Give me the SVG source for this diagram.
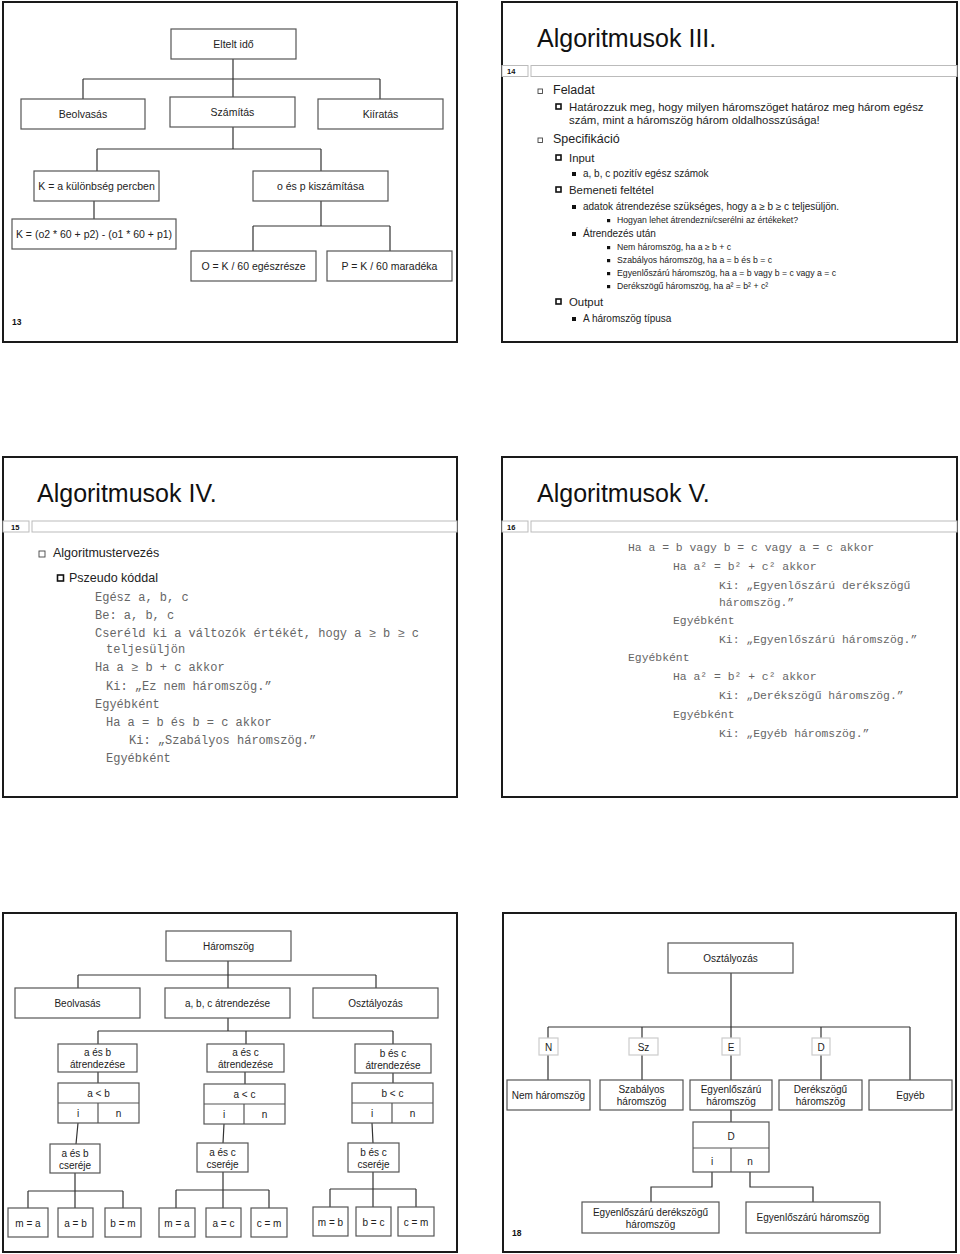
<svg xmlns="http://www.w3.org/2000/svg" width="960" height="1254" viewBox="0 0 960 1254">
<style>
.panel{fill:#fff;stroke:#1a1a1a;stroke-width:2}
.hdr{fill:#fff;stroke:#bbb;stroke-width:1}
.num{font-family:"Liberation Sans",Arial,sans-serif;font-weight:bold;fill:#111}
.title{font-family:"Liberation Sans",Arial,sans-serif;font-size:25px;fill:#111}
.box{fill:#fff;stroke:#555;stroke-width:1.2}
.lbl{fill:#fff;stroke:#ccc;stroke-width:1.2}
.t{font-family:"Liberation Sans",Arial,sans-serif;font-size:10.5px;fill:#222;text-anchor:middle}
.t2{font-family:"Liberation Sans",Arial,sans-serif;font-size:10px;fill:#222;text-anchor:middle}
.con path{fill:none;stroke:#333;stroke-width:1.2}
.b1{fill:#fff;stroke:#444;stroke-width:0.9}
.b2{fill:#fff;stroke:#111;stroke-width:1.6}
.bf{fill:#111}
.s1{font-family:"Liberation Sans",Arial,sans-serif;font-size:12.5px;fill:#222}
.s2{font-family:"Liberation Sans",Arial,sans-serif;font-size:11.4px;fill:#222}
.s3{font-family:"Liberation Sans",Arial,sans-serif;font-size:10px;fill:#222}
.s4{font-family:"Liberation Sans",Arial,sans-serif;font-size:8.7px;fill:#222}
.code{font-family:"Liberation Mono","Courier New",monospace;font-size:12px;fill:#666}
.code2{font-family:"Liberation Mono","Courier New",monospace;font-size:11.4px;fill:#666}
</style>

<!-- Panel 13 -->
<g id="slide13">
<rect class="panel" x="3" y="2" width="454" height="340"/>
<text class="num" x="12" y="325" font-size="8.5">13</text>
<g class="con" id="conn13">
<path d="M233,59V79M83,79H380M83,79V99M233,79V97M380,79V99"/>
<path d="M233,127V149M97,149H321M97,149V171M321,149V171"/>
<path d="M94,201V219"/>
<path d="M321,201V226M253,226H390M253,226V251M390,226V251"/>
</g>
<g id="n13_eltelt"><rect class="box" x="171" y="29" width="125" height="30"/><text class="t" x="233.5" y="48">Eltelt idő</text></g>
<g id="n13_beolvasas"><rect class="box" x="21" y="99" width="124" height="30"/><text class="t" x="83" y="118">Beolvasás</text></g>
<g id="n13_szamitas"><rect class="box" x="170" y="97" width="125" height="30"/><text class="t" x="232.5" y="116">Számítás</text></g>
<g id="n13_kiiratas"><rect class="box" x="318" y="99" width="125" height="30"/><text class="t" x="380.5" y="118">Kiíratás</text></g>
<g id="n13_kulonbseg"><rect class="box" x="34" y="171" width="125" height="30"/><text class="t" x="96.5" y="190">K = a különbség percben</text></g>
<g id="n13_oesp"><rect class="box" x="253" y="171" width="135" height="30"/><text class="t" x="320.5" y="190">o és p kiszámítása</text></g>
<g id="n13_kformula"><rect class="box" x="12" y="219" width="164" height="30"/><text class="t" x="94" y="238">K = (o2 * 60 + p2) - (o1 * 60 + p1)</text></g>
<g id="n13_O"><rect class="box" x="191" y="251" width="125" height="30"/><text class="t" x="253.5" y="270">O = K / 60 egészrésze</text></g>
<g id="n13_P"><rect class="box" x="327" y="251" width="125" height="30"/><text class="t" x="389.5" y="270">P = K / 60 maradéka</text></g>
</g>

<!-- Panel 14 -->
<g id="slide14">
<rect class="panel" x="502" y="2" width="455" height="340"/>
<text class="title" x="537" y="47">Algoritmusok III.</text>
<rect class="hdr" x="502" y="65.5" width="26" height="11"/>
<rect class="hdr" x="531" y="65.5" width="426" height="11"/>
<text class="num" x="507" y="74" font-size="7.5">14</text>
<rect class="b1" x="538" y="89" width="4.5" height="4.5"/>
<text class="s1" x="553" y="94">Feladat</text>
<rect class="b2" x="556" y="104" width="5" height="5"/>
<text class="s2" x="569" y="111">Határozzuk meg, hogy milyen háromszöget határoz meg három egész</text>
<text class="s2" x="569" y="124">szám, mint a háromszög három oldalhosszúsága!</text>
<rect class="b1" x="538" y="138" width="4.5" height="4.5"/>
<text class="s1" x="553" y="143">Specifikáció</text>
<rect class="b2" x="556" y="155" width="5" height="5"/>
<text class="s2" x="569" y="162">Input</text>
<rect class="bf" x="572" y="172" width="4" height="4"/>
<text class="s3" x="583" y="177">a, b, c pozitív egész számok</text>
<rect class="b2" x="556" y="187" width="5" height="5"/>
<text class="s2" x="569" y="194">Bemeneti feltétel</text>
<rect class="bf" x="572" y="205" width="4" height="4"/>
<text class="s3" x="583" y="210">adatok átrendezése szükséges, hogy a ≥ b ≥ c teljesüljön.</text>
<rect class="bf" x="607" y="219" width="3.2" height="3.2"/>
<text class="s4" x="617" y="223">Hogyan lehet átrendezni/cserélni az értékeket?</text>
<rect class="bf" x="572" y="232" width="4" height="4"/>
<text class="s3" x="583" y="237">Átrendezés után</text>
<rect class="bf" x="607" y="246" width="3.2" height="3.2"/>
<text class="s4" x="617" y="250">Nem háromszög, ha a ≥ b + c</text>
<rect class="bf" x="607" y="259" width="3.2" height="3.2"/>
<text class="s4" x="617" y="263">Szabályos háromszög, ha a = b és b = c</text>
<rect class="bf" x="607" y="272" width="3.2" height="3.2"/>
<text class="s4" x="617" y="276">Egyenlőszárú háromszög, ha a = b vagy b = c vagy a = c</text>
<rect class="bf" x="607" y="285" width="3.2" height="3.2"/>
<text class="s4" x="617" y="289">Derékszögű háromszög, ha a² = b² + c²</text>
<rect class="b2" x="556" y="299" width="5" height="5"/>
<text class="s2" x="569" y="306">Output</text>
<rect class="bf" x="572" y="317" width="4" height="4"/>
<text class="s3" x="583" y="322">A háromszög típusa</text>
</g>

<!-- Panel 15 -->
<g id="slide15">
<rect class="panel" x="3" y="457" width="454" height="340"/>
<text class="title" x="37" y="502">Algoritmusok IV.</text>
<rect class="hdr" x="3" y="521" width="26" height="11"/>
<rect class="hdr" x="32" y="521" width="425" height="11"/>
<text class="num" x="11" y="529.5" font-size="7.5">15</text>
<rect class="b1" x="39" y="551" width="6" height="6"/>
<text class="s1" x="53" y="557" font-size="17.5px">Algoritmustervezés</text>
<rect class="b2" x="57.5" y="575" width="6" height="6"/>
<text class="s1" x="69" y="582" font-size="15px">Pszeudo kóddal</text>
<text class="code" x="95" y="601">Egész a, b, c</text>
<text class="code" x="95" y="619">Be: a, b, c</text>
<text class="code" x="95" y="637">Cseréld ki a változók értékét, hogy a ≥ b ≥ c</text>
<text class="code" x="106" y="653">teljesüljön</text>
<text class="code" x="95" y="671">Ha a ≥ b + c akkor</text>
<text class="code" x="106" y="690">Ki: „Ez nem háromszög.”</text>
<text class="code" x="95" y="708">Egyébként</text>
<text class="code" x="106" y="726">Ha a = b és b = c akkor</text>
<text class="code" x="129" y="744">Ki: „Szabályos háromszög.”</text>
<text class="code" x="106" y="762">Egyébként</text>
</g>

<!-- Panel 16 -->
<g id="slide16">
<rect class="panel" x="502" y="457" width="455" height="340"/>
<text class="title" x="537" y="502">Algoritmusok V.</text>
<rect class="hdr" x="502" y="521" width="26" height="11"/>
<rect class="hdr" x="531" y="521" width="426" height="11"/>
<text class="num" x="507" y="529.5" font-size="7.5">16</text>
<text class="code2" x="628" y="551">Ha a = b vagy b = c vagy a = c akkor</text>
<text class="code2" x="673" y="570">Ha a² = b² + c² akkor</text>
<text class="code2" x="719" y="589">Ki: „Egyenlőszárú derékszögű</text>
<text class="code2" x="719" y="606">háromszög.”</text>
<text class="code2" x="673" y="624">Egyébként</text>
<text class="code2" x="719" y="643">Ki: „Egyenlőszárú háromszög.”</text>
<text class="code2" x="628" y="661">Egyébként</text>
<text class="code2" x="673" y="680">Ha a² = b² + c² akkor</text>
<text class="code2" x="719" y="699">Ki: „Derékszögű háromszög.”</text>
<text class="code2" x="673" y="718">Egyébként</text>
<text class="code2" x="719" y="737">Ki: „Egyéb háromszög.”</text>
</g>

<!-- Panel 17 -->
<g id="slide17">
<rect class="panel" x="3" y="913" width="454" height="339"/>
<g class="con" id="conn17">
<path d="M228,961V975M78,975H376M78,975V988M228,975V988M376,975V988"/>
<path d="M228,1018V1031M98,1031H393M98,1031V1044M246,1031V1044M393,1031V1044"/>
<path d="M98,1072V1083M245,1072V1084M393,1073V1083"/>
<path d="M78,1123L76,1144M224,1124L223,1143M372,1123L373,1143"/>
<path d="M75,1173V1191M28,1191H123M28,1191V1208M75,1191V1208M123,1191V1208"/>
<path d="M223,1172V1190M176,1190H269M176,1190V1208M223,1190V1208M269,1190V1208"/>
<path d="M373,1172V1189M330,1189H416M330,1189V1207M373,1189V1207M416,1189V1207"/>
</g>
<g id="n17_haromszog"><rect class="box" x="166" y="931" width="125" height="30"/><text class="t2" x="228.5" y="950">Háromszög</text></g>
<g id="n17_beolvasas"><rect class="box" x="15" y="988" width="125" height="30"/><text class="t2" x="77.5" y="1007">Beolvasás</text></g>
<g id="n17_atrendezes"><rect class="box" x="165" y="988" width="125" height="30"/><text class="t2" x="227.5" y="1007">a, b, c átrendezése</text></g>
<g id="n17_osztalyozas"><rect class="box" x="313" y="988" width="125" height="30"/><text class="t2" x="375.5" y="1007">Osztályozás</text></g>
<g id="n17_ab"><rect class="box" x="58" y="1044" width="79" height="28"/><text class="t2" x="97.5" y="1056">a és b</text><text class="t2" x="97.5" y="1068">átrendezése</text></g>
<g id="n17_ac"><rect class="box" x="207" y="1044" width="77" height="28"/><text class="t2" x="245.5" y="1056">a és c</text><text class="t2" x="245.5" y="1068">átrendezése</text></g>
<g id="n17_bc"><rect class="box" x="355" y="1044" width="76" height="29"/><text class="t2" x="393" y="1057">b és c</text><text class="t2" x="393" y="1069">átrendezése</text></g>
<g id="n17_dab"><rect class="box" x="58" y="1083" width="81" height="40"/><path d="M58,1103H139M98,1103V1123" fill="none" stroke="#555" stroke-width="1.2"/><text class="t2" x="98.5" y="1097">a &lt; b</text><text class="t2" x="78" y="1117">i</text><text class="t2" x="118.5" y="1117">n</text></g>
<g id="n17_dac"><rect class="box" x="204" y="1084" width="81" height="40"/><path d="M204,1104H285M244,1104V1124" fill="none" stroke="#555" stroke-width="1.2"/><text class="t2" x="244.5" y="1098">a &lt; c</text><text class="t2" x="224" y="1118">i</text><text class="t2" x="264.5" y="1118">n</text></g>
<g id="n17_dbc"><rect class="box" x="352" y="1083" width="81" height="40"/><path d="M352,1103H433M392,1103V1123" fill="none" stroke="#555" stroke-width="1.2"/><text class="t2" x="392.5" y="1097">b &lt; c</text><text class="t2" x="372" y="1117">i</text><text class="t2" x="412.5" y="1117">n</text></g>
<g id="n17_cab"><rect class="box" x="50" y="1144" width="50" height="29"/><text class="t2" x="75" y="1157">a és b</text><text class="t2" x="75" y="1169">cseréje</text></g>
<g id="n17_cac"><rect class="box" x="197" y="1143" width="51" height="29"/><text class="t2" x="222.5" y="1156">a és c</text><text class="t2" x="222.5" y="1168">cseréje</text></g>
<g id="n17_cbc"><rect class="box" x="348" y="1143" width="51" height="29"/><text class="t2" x="373.5" y="1156">b és c</text><text class="t2" x="373.5" y="1168">cseréje</text></g>
<g id="n17_l1"><rect class="box" x="8" y="1208" width="40" height="29"/><text class="t2" x="28" y="1226.5">m = a</text></g>
<g id="n17_l2"><rect class="box" x="58" y="1208" width="35" height="29"/><text class="t2" x="75.5" y="1226.5">a = b</text></g>
<g id="n17_l3"><rect class="box" x="105" y="1208" width="36" height="29"/><text class="t2" x="123" y="1226.5">b = m</text></g>
<g id="n17_l4"><rect class="box" x="159" y="1208" width="36" height="29"/><text class="t2" x="177" y="1226.5">m = a</text></g>
<g id="n17_l5"><rect class="box" x="206" y="1208" width="35" height="29"/><text class="t2" x="223.5" y="1226.5">a = c</text></g>
<g id="n17_l6"><rect class="box" x="251" y="1208" width="36" height="29"/><text class="t2" x="269" y="1226.5">c = m</text></g>
<g id="n17_l7"><rect class="box" x="313" y="1207" width="35" height="29"/><text class="t2" x="330.5" y="1225.5">m = b</text></g>
<g id="n17_l8"><rect class="box" x="356" y="1207" width="35" height="29"/><text class="t2" x="373.5" y="1225.5">b = c</text></g>
<g id="n17_l9"><rect class="box" x="398" y="1207" width="36" height="29"/><text class="t2" x="416" y="1225.5">c = m</text></g>
</g>

<!-- Panel 18 -->
<g id="slide18">
<rect class="panel" x="503" y="913" width="453" height="339"/>
<text class="num" x="512" y="1236" font-size="8.5">18</text>
<g class="con" id="conn18">
<path d="M731,973V1027M548,1027H910M548,1027V1038M642,1027V1038M731,1027V1038M821,1027V1038M910,1027V1080"/>
<path d="M548,1055V1080M642,1055V1080M731,1055V1080M821,1055V1080"/>
<path d="M731,1110V1122"/>
<path d="M712,1172V1187H651V1202M750,1172V1187H813V1202"/>
</g>
<g id="n18_osztalyozas"><rect class="box" x="668" y="943" width="125" height="30"/><text class="t2" x="730.5" y="962">Osztályozás</text></g>
<g id="n18_N"><rect class="lbl" x="539" y="1038" width="19" height="17"/><text class="t2" x="548.5" y="1050.5">N</text></g>
<g id="n18_Sz"><rect class="lbl" x="629" y="1038" width="29" height="17"/><text class="t2" x="643.5" y="1050.5">Sz</text></g>
<g id="n18_E"><rect class="lbl" x="722" y="1038" width="18" height="17"/><text class="t2" x="731" y="1050.5">E</text></g>
<g id="n18_D"><rect class="lbl" x="812" y="1038" width="18" height="17"/><text class="t2" x="821" y="1050.5">D</text></g>
<g id="n18_nem"><rect class="box" x="507" y="1080" width="83" height="30"/><text class="t2" x="548.5" y="1099">Nem háromszög</text></g>
<g id="n18_szab"><rect class="box" x="600" y="1080" width="83" height="30"/><text class="t2" x="641.5" y="1093">Szabályos</text><text class="t2" x="641.5" y="1105">háromszög</text></g>
<g id="n18_egyenlo"><rect class="box" x="690" y="1080" width="82" height="30"/><text class="t2" x="731" y="1093">Egyenlőszárú</text><text class="t2" x="731" y="1105">háromszög</text></g>
<g id="n18_derek"><rect class="box" x="779" y="1080" width="83" height="30"/><text class="t2" x="820.5" y="1093">Derékszögű</text><text class="t2" x="820.5" y="1105">háromszög</text></g>
<g id="n18_egyeb"><rect class="box" x="869" y="1080" width="83" height="30"/><text class="t2" x="910.5" y="1099">Egyéb</text></g>
<g id="n18_dec"><rect class="box" x="693" y="1122" width="76" height="50"/><path d="M693,1148H769M731,1148V1172" fill="none" stroke="#555" stroke-width="1.2"/><text class="t2" x="731" y="1140">D</text><text class="t2" x="712" y="1165">i</text><text class="t2" x="750" y="1165">n</text></g>
<g id="n18_ed"><rect class="box" x="582" y="1202" width="137" height="31"/><text class="t2" x="650.5" y="1216">Egyenlőszárú derékszögű</text><text class="t2" x="650.5" y="1228">háromszög</text></g>
<g id="n18_e"><rect class="box" x="746" y="1202" width="134" height="31"/><text class="t2" x="813" y="1221">Egyenlőszárú háromszög</text></g>
</g>
</svg>
